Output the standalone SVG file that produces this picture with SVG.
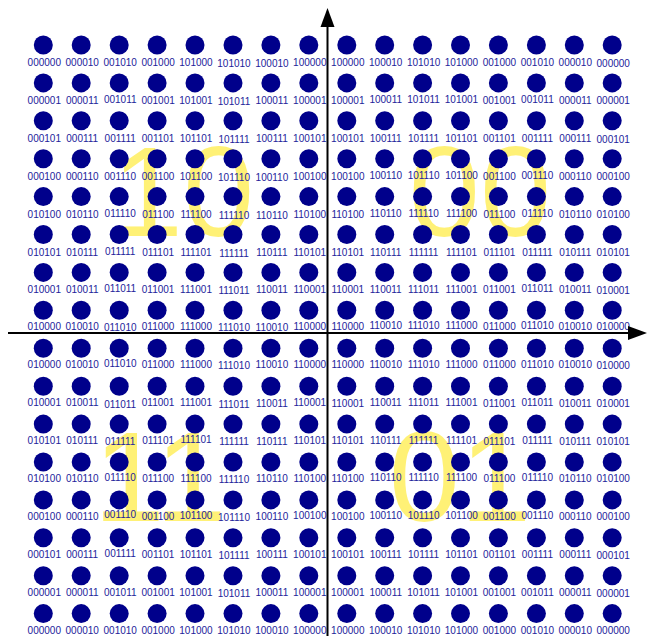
<svg xmlns="http://www.w3.org/2000/svg" width="647" height="636" viewBox="0 0 647 636">
<style>
.big{font-family:"Liberation Sans",Arial,sans-serif;font-size:128px;fill:#fff176;text-anchor:middle}
circle{fill:#00008b}
text.l{font-family:"Liberation Sans",Arial,sans-serif;font-size:10px;fill:#23239b;text-anchor:middle}
.ax{stroke:#000;stroke-width:2;fill:none}
</style>
<rect width="647" height="636" fill="#fff"/>
<g id="quadrants">
<text class="big" x="183" y="236">10</text>
<text class="big" x="480" y="236">00</text>
<text class="big" x="160" y="521">11</text>
<text class="big" x="460" y="521">01</text>
</g>
<g id="points">
<!-- row 0 -->
<g id="n0_0" transform="translate(43.3,45)"><circle r="9.5"/><text class="l" x="1" y="21">000000</text></g>
<g id="n0_1" transform="translate(81.2,45)"><circle r="9.5"/><text class="l" x="1" y="21">000010</text></g>
<g id="n0_2" transform="translate(119.2,45)"><circle r="9.5"/><text class="l" x="1" y="21">001010</text></g>
<g id="n0_3" transform="translate(157.1,45)"><circle r="9.5"/><text class="l" x="1" y="21">001000</text></g>
<g id="n0_4" transform="translate(195,45)"><circle r="9.5"/><text class="l" x="1" y="21">101000</text></g>
<g id="n0_5" transform="translate(233,45)"><circle r="9.5"/><text class="l" x="1" y="22">101010</text></g>
<g id="n0_6" transform="translate(270.9,45)"><circle r="9.5"/><text class="l" x="1" y="22">100010</text></g>
<g id="n0_7" transform="translate(308.8,45)"><circle r="9.5"/><text class="l" x="1" y="21">100000</text></g>
<g id="n0_8" transform="translate(346.8,45)"><circle r="9.5"/><text class="l" x="1" y="21">100000</text></g>
<g id="n0_9" transform="translate(384.7,45)"><circle r="9.5"/><text class="l" x="1" y="21">100010</text></g>
<g id="n0_10" transform="translate(422.6,45)"><circle r="9.5"/><text class="l" x="1" y="21">101010</text></g>
<g id="n0_11" transform="translate(460.5,45)"><circle r="9.5"/><text class="l" x="1" y="21">101000</text></g>
<g id="n0_12" transform="translate(498.4,45)"><circle r="9.5"/><text class="l" x="1" y="21">001000</text></g>
<g id="n0_13" transform="translate(536.4,45)"><circle r="9.5"/><text class="l" x="1" y="21">001010</text></g>
<g id="n0_14" transform="translate(574.3,45)"><circle r="9.5"/><text class="l" x="1" y="21">000010</text></g>
<g id="n0_15" transform="translate(612.2,45)"><circle r="9.5"/><text class="l" x="1" y="22">000000</text></g>
<!-- row 1 -->
<g id="n1_0" transform="translate(43.3,82.9)"><circle r="9.5"/><text class="l" x="1" y="21">000001</text></g>
<g id="n1_1" transform="translate(81.2,82.9)"><circle r="9.5"/><text class="l" x="1" y="21">000011</text></g>
<g id="n1_2" transform="translate(119.2,82.9)"><circle r="9.5"/><text class="l" x="1" y="20">001011</text></g>
<g id="n1_3" transform="translate(157.1,82.9)"><circle r="9.5"/><text class="l" x="1" y="21">001001</text></g>
<g id="n1_4" transform="translate(195,82.9)"><circle r="9.5"/><text class="l" x="1" y="21">101001</text></g>
<g id="n1_5" transform="translate(233,82.9)"><circle r="9.5"/><text class="l" x="1" y="22">101011</text></g>
<g id="n1_6" transform="translate(270.9,82.9)"><circle r="9.5"/><text class="l" x="1" y="21">100011</text></g>
<g id="n1_7" transform="translate(308.8,82.9)"><circle r="9.5"/><text class="l" x="1" y="21">100001</text></g>
<g id="n1_8" transform="translate(346.8,82.9)"><circle r="9.5"/><text class="l" x="1" y="21">100001</text></g>
<g id="n1_9" transform="translate(384.7,82.9)"><circle r="9.5"/><text class="l" x="1" y="20">100011</text></g>
<g id="n1_10" transform="translate(422.6,82.9)"><circle r="9.5"/><text class="l" x="1" y="20">101011</text></g>
<g id="n1_11" transform="translate(460.5,82.9)"><circle r="9.5"/><text class="l" x="1" y="20">101001</text></g>
<g id="n1_12" transform="translate(498.4,82.9)"><circle r="9.5"/><text class="l" x="1" y="21">001001</text></g>
<g id="n1_13" transform="translate(536.4,82.9)"><circle r="9.5"/><text class="l" x="1" y="20">001011</text></g>
<g id="n1_14" transform="translate(574.3,82.9)"><circle r="9.5"/><text class="l" x="1" y="21">000011</text></g>
<g id="n1_15" transform="translate(612.2,82.9)"><circle r="9.5"/><text class="l" x="1" y="21">000001</text></g>
<!-- row 2 -->
<g id="n2_0" transform="translate(43.3,120.8)"><circle r="9.5"/><text class="l" x="1" y="21">000101</text></g>
<g id="n2_1" transform="translate(81.2,120.8)"><circle r="9.5"/><text class="l" x="1" y="21">000111</text></g>
<g id="n2_2" transform="translate(119.2,120.8)"><circle r="9.5"/><text class="l" x="1" y="21">001111</text></g>
<g id="n2_3" transform="translate(157.1,120.8)"><circle r="9.5"/><text class="l" x="1" y="21">001101</text></g>
<g id="n2_4" transform="translate(195,120.8)"><circle r="9.5"/><text class="l" x="1" y="21">101101</text></g>
<g id="n2_5" transform="translate(233,120.8)"><circle r="9.5"/><text class="l" x="1" y="22">101111</text></g>
<g id="n2_6" transform="translate(270.9,120.8)"><circle r="9.5"/><text class="l" x="1" y="21">100111</text></g>
<g id="n2_7" transform="translate(308.8,120.8)"><circle r="9.5"/><text class="l" x="1" y="21">100101</text></g>
<g id="n2_8" transform="translate(346.8,120.8)"><circle r="9.5"/><text class="l" x="1" y="21">100101</text></g>
<g id="n2_9" transform="translate(384.7,120.8)"><circle r="9.5"/><text class="l" x="1" y="21">100111</text></g>
<g id="n2_10" transform="translate(422.6,120.8)"><circle r="9.5"/><text class="l" x="1" y="21">101111</text></g>
<g id="n2_11" transform="translate(460.5,120.8)"><circle r="9.5"/><text class="l" x="1" y="21">101101</text></g>
<g id="n2_12" transform="translate(498.4,120.8)"><circle r="9.5"/><text class="l" x="1" y="21">001101</text></g>
<g id="n2_13" transform="translate(536.4,120.8)"><circle r="9.5"/><text class="l" x="1" y="21">001111</text></g>
<g id="n2_14" transform="translate(574.3,120.8)"><circle r="9.5"/><text class="l" x="1" y="21">000111</text></g>
<g id="n2_15" transform="translate(612.2,120.8)"><circle r="9.5"/><text class="l" x="1" y="22">000101</text></g>
<!-- row 3 -->
<g id="n3_0" transform="translate(43.3,158.7)"><circle r="9.5"/><text class="l" x="1" y="21">000100</text></g>
<g id="n3_1" transform="translate(81.2,158.7)"><circle r="9.5"/><text class="l" x="1" y="21">000110</text></g>
<g id="n3_2" transform="translate(119.2,158.7)"><circle r="9.5"/><text class="l" x="1" y="21">001110</text></g>
<g id="n3_3" transform="translate(157.1,158.7)"><circle r="9.5"/><text class="l" x="1" y="21">001100</text></g>
<g id="n3_4" transform="translate(195,158.7)"><circle r="9.5"/><text class="l" x="1" y="21">101100</text></g>
<g id="n3_5" transform="translate(233,158.7)"><circle r="9.5"/><text class="l" x="1" y="22">101110</text></g>
<g id="n3_6" transform="translate(270.9,158.7)"><circle r="9.5"/><text class="l" x="1" y="22">100110</text></g>
<g id="n3_7" transform="translate(308.8,158.7)"><circle r="9.5"/><text class="l" x="1" y="21">100100</text></g>
<g id="n3_8" transform="translate(346.8,158.7)"><circle r="9.5"/><text class="l" x="1" y="21">100100</text></g>
<g id="n3_9" transform="translate(384.7,158.7)"><circle r="9.5"/><text class="l" x="1" y="20">100110</text></g>
<g id="n3_10" transform="translate(422.6,158.7)"><circle r="9.5"/><text class="l" x="1" y="20">101110</text></g>
<g id="n3_11" transform="translate(460.5,158.7)"><circle r="9.5"/><text class="l" x="1" y="20">101100</text></g>
<g id="n3_12" transform="translate(498.4,158.7)"><circle r="9.5"/><text class="l" x="1" y="21">001100</text></g>
<g id="n3_13" transform="translate(536.4,158.7)"><circle r="9.5"/><text class="l" x="1" y="20">001110</text></g>
<g id="n3_14" transform="translate(574.3,158.7)"><circle r="9.5"/><text class="l" x="1" y="21">000110</text></g>
<g id="n3_15" transform="translate(612.2,158.7)"><circle r="9.5"/><text class="l" x="1" y="21">000100</text></g>
<!-- row 4 -->
<g id="n4_0" transform="translate(43.3,196.6)"><circle r="9.5"/><text class="l" x="1" y="21">010100</text></g>
<g id="n4_1" transform="translate(81.2,196.6)"><circle r="9.5"/><text class="l" x="1" y="21">010110</text></g>
<g id="n4_2" transform="translate(119.2,196.6)"><circle r="9.5"/><text class="l" x="1" y="20">011110</text></g>
<g id="n4_3" transform="translate(157.1,196.6)"><circle r="9.5"/><text class="l" x="1" y="21">011100</text></g>
<g id="n4_4" transform="translate(195,196.6)"><circle r="9.5"/><text class="l" x="1" y="21">111100</text></g>
<g id="n4_5" transform="translate(233,196.6)"><circle r="9.5"/><text class="l" x="1" y="22">111110</text></g>
<g id="n4_6" transform="translate(270.9,196.6)"><circle r="9.5"/><text class="l" x="1" y="22">110110</text></g>
<g id="n4_7" transform="translate(308.8,196.6)"><circle r="9.5"/><text class="l" x="1" y="21">110100</text></g>
<g id="n4_8" transform="translate(346.8,196.6)"><circle r="9.5"/><text class="l" x="1" y="21">110100</text></g>
<g id="n4_9" transform="translate(384.7,196.6)"><circle r="9.5"/><text class="l" x="1" y="20">110110</text></g>
<g id="n4_10" transform="translate(422.6,196.6)"><circle r="9.5"/><text class="l" x="1" y="20">111110</text></g>
<g id="n4_11" transform="translate(460.5,196.6)"><circle r="9.5"/><text class="l" x="1" y="20">111100</text></g>
<g id="n4_12" transform="translate(498.4,196.6)"><circle r="9.5"/><text class="l" x="1" y="21">011100</text></g>
<g id="n4_13" transform="translate(536.4,196.6)"><circle r="9.5"/><text class="l" x="1" y="20">011110</text></g>
<g id="n4_14" transform="translate(574.3,196.6)"><circle r="9.5"/><text class="l" x="1" y="21">010110</text></g>
<g id="n4_15" transform="translate(612.2,196.6)"><circle r="9.5"/><text class="l" x="1" y="21">010100</text></g>
<!-- row 5 -->
<g id="n5_0" transform="translate(43.3,234.5)"><circle r="9.5"/><text class="l" x="1" y="21">010101</text></g>
<g id="n5_1" transform="translate(81.2,234.5)"><circle r="9.5"/><text class="l" x="1" y="21">010111</text></g>
<g id="n5_2" transform="translate(119.2,234.5)"><circle r="9.5"/><text class="l" x="1" y="20">011111</text></g>
<g id="n5_3" transform="translate(157.1,234.5)"><circle r="9.5"/><text class="l" x="1" y="21">011101</text></g>
<g id="n5_4" transform="translate(195,234.5)"><circle r="9.5"/><text class="l" x="1" y="21">111101</text></g>
<g id="n5_5" transform="translate(233,234.5)"><circle r="9.5"/><text class="l" x="1" y="22">111111</text></g>
<g id="n5_6" transform="translate(270.9,234.5)"><circle r="9.5"/><text class="l" x="1" y="21">110111</text></g>
<g id="n5_7" transform="translate(308.8,234.5)"><circle r="9.5"/><text class="l" x="1" y="21">110101</text></g>
<g id="n5_8" transform="translate(346.8,234.5)"><circle r="9.5"/><text class="l" x="1" y="21">110101</text></g>
<g id="n5_9" transform="translate(384.7,234.5)"><circle r="9.5"/><text class="l" x="1" y="21">110111</text></g>
<g id="n5_10" transform="translate(422.6,234.5)"><circle r="9.5"/><text class="l" x="1" y="21">111111</text></g>
<g id="n5_11" transform="translate(460.5,234.5)"><circle r="9.5"/><text class="l" x="1" y="21">111101</text></g>
<g id="n5_12" transform="translate(498.4,234.5)"><circle r="9.5"/><text class="l" x="1" y="21">011101</text></g>
<g id="n5_13" transform="translate(536.4,234.5)"><circle r="9.5"/><text class="l" x="1" y="21">011111</text></g>
<g id="n5_14" transform="translate(574.3,234.5)"><circle r="9.5"/><text class="l" x="1" y="21">010111</text></g>
<g id="n5_15" transform="translate(612.2,234.5)"><circle r="9.5"/><text class="l" x="1" y="21">010101</text></g>
<!-- row 6 -->
<g id="n6_0" transform="translate(43.3,272.4)"><circle r="9.5"/><text class="l" x="1" y="21">010001</text></g>
<g id="n6_1" transform="translate(81.2,272.4)"><circle r="9.5"/><text class="l" x="1" y="21">010011</text></g>
<g id="n6_2" transform="translate(119.2,272.4)"><circle r="9.5"/><text class="l" x="1" y="20">011011</text></g>
<g id="n6_3" transform="translate(157.1,272.4)"><circle r="9.5"/><text class="l" x="1" y="21">011001</text></g>
<g id="n6_4" transform="translate(195,272.4)"><circle r="9.5"/><text class="l" x="1" y="21">111001</text></g>
<g id="n6_5" transform="translate(233,272.4)"><circle r="9.5"/><text class="l" x="1" y="22">111011</text></g>
<g id="n6_6" transform="translate(270.9,272.4)"><circle r="9.5"/><text class="l" x="1" y="21">110011</text></g>
<g id="n6_7" transform="translate(308.8,272.4)"><circle r="9.5"/><text class="l" x="1" y="21">110001</text></g>
<g id="n6_8" transform="translate(346.8,272.4)"><circle r="9.5"/><text class="l" x="1" y="21">110001</text></g>
<g id="n6_9" transform="translate(384.7,272.4)"><circle r="9.5"/><text class="l" x="1" y="21">110011</text></g>
<g id="n6_10" transform="translate(422.6,272.4)"><circle r="9.5"/><text class="l" x="1" y="21">111011</text></g>
<g id="n6_11" transform="translate(460.5,272.4)"><circle r="9.5"/><text class="l" x="1" y="21">111001</text></g>
<g id="n6_12" transform="translate(498.4,272.4)"><circle r="9.5"/><text class="l" x="1" y="21">011001</text></g>
<g id="n6_13" transform="translate(536.4,272.4)"><circle r="9.5"/><text class="l" x="1" y="20">011011</text></g>
<g id="n6_14" transform="translate(574.3,272.4)"><circle r="9.5"/><text class="l" x="1" y="21">010011</text></g>
<g id="n6_15" transform="translate(612.2,272.4)"><circle r="9.5"/><text class="l" x="1" y="22">010001</text></g>
<!-- row 7 -->
<g id="n7_0" transform="translate(43.3,310.3)"><circle r="9.5"/><text class="l" x="1" y="20">010000</text></g>
<g id="n7_1" transform="translate(81.2,310.3)"><circle r="9.5"/><text class="l" x="1" y="20">010010</text></g>
<g id="n7_2" transform="translate(119.2,310.3)"><circle r="9.5"/><text class="l" x="1" y="21">011010</text></g>
<g id="n7_3" transform="translate(157.1,310.3)"><circle r="9.5"/><text class="l" x="1" y="20">011000</text></g>
<g id="n7_4" transform="translate(195,310.3)"><circle r="9.5"/><text class="l" x="1" y="20">111000</text></g>
<g id="n7_5" transform="translate(233,310.3)"><circle r="9.5"/><text class="l" x="1" y="21">111010</text></g>
<g id="n7_6" transform="translate(270.9,310.3)"><circle r="9.5"/><text class="l" x="1" y="21">110010</text></g>
<g id="n7_7" transform="translate(308.8,310.3)"><circle r="9.5"/><text class="l" x="1" y="20">110000</text></g>
<g id="n7_8" transform="translate(346.8,310.3)"><circle r="9.5"/><text class="l" x="1" y="20">110000</text></g>
<g id="n7_9" transform="translate(384.7,310.3)"><circle r="9.5"/><text class="l" x="1" y="19">110010</text></g>
<g id="n7_10" transform="translate(422.6,310.3)"><circle r="9.5"/><text class="l" x="1" y="19">111010</text></g>
<g id="n7_11" transform="translate(460.5,310.3)"><circle r="9.5"/><text class="l" x="1" y="19">111000</text></g>
<g id="n7_12" transform="translate(498.4,310.3)"><circle r="9.5"/><text class="l" x="1" y="20">011000</text></g>
<g id="n7_13" transform="translate(536.4,310.3)"><circle r="9.5"/><text class="l" x="1" y="19">011010</text></g>
<g id="n7_14" transform="translate(574.3,310.3)"><circle r="9.5"/><text class="l" x="1" y="20">010010</text></g>
<g id="n7_15" transform="translate(612.2,310.3)"><circle r="9.5"/><text class="l" x="1" y="20">010000</text></g>
<!-- row 8 -->
<g id="n8_0" transform="translate(43.3,348.3)"><circle r="9.5"/><text class="l" x="1" y="20">010000</text></g>
<g id="n8_1" transform="translate(81.2,348.3)"><circle r="9.5"/><text class="l" x="1" y="20">010010</text></g>
<g id="n8_2" transform="translate(119.2,348.3)"><circle r="9.5"/><text class="l" x="1" y="19">011010</text></g>
<g id="n8_3" transform="translate(157.1,348.3)"><circle r="9.5"/><text class="l" x="1" y="20">011000</text></g>
<g id="n8_4" transform="translate(195,348.3)"><circle r="9.5"/><text class="l" x="1" y="20">111000</text></g>
<g id="n8_5" transform="translate(233,348.3)"><circle r="9.5"/><text class="l" x="1" y="21">111010</text></g>
<g id="n8_6" transform="translate(270.9,348.3)"><circle r="9.5"/><text class="l" x="1" y="20">110010</text></g>
<g id="n8_7" transform="translate(308.8,348.3)"><circle r="9.5"/><text class="l" x="1" y="20">110000</text></g>
<g id="n8_8" transform="translate(346.8,348.3)"><circle r="9.5"/><text class="l" x="1" y="20">110000</text></g>
<g id="n8_9" transform="translate(384.7,348.3)"><circle r="9.5"/><text class="l" x="1" y="20">110010</text></g>
<g id="n8_10" transform="translate(422.6,348.3)"><circle r="9.5"/><text class="l" x="1" y="20">111010</text></g>
<g id="n8_11" transform="translate(460.5,348.3)"><circle r="9.5"/><text class="l" x="1" y="20">111000</text></g>
<g id="n8_12" transform="translate(498.4,348.3)"><circle r="9.5"/><text class="l" x="1" y="20">011000</text></g>
<g id="n8_13" transform="translate(536.4,348.3)"><circle r="9.5"/><text class="l" x="1" y="20">011010</text></g>
<g id="n8_14" transform="translate(574.3,348.3)"><circle r="9.5"/><text class="l" x="1" y="20">010010</text></g>
<g id="n8_15" transform="translate(612.2,348.3)"><circle r="9.5"/><text class="l" x="1" y="21">010000</text></g>
<!-- row 9 -->
<g id="n9_0" transform="translate(43.3,386.2)"><circle r="9.5"/><text class="l" x="1" y="20">010001</text></g>
<g id="n9_1" transform="translate(81.2,386.2)"><circle r="9.5"/><text class="l" x="1" y="20">010011</text></g>
<g id="n9_2" transform="translate(119.2,386.2)"><circle r="9.5"/><text class="l" x="1" y="22">011011</text></g>
<g id="n9_3" transform="translate(157.1,386.2)"><circle r="9.5"/><text class="l" x="1" y="20">011001</text></g>
<g id="n9_4" transform="translate(195,386.2)"><circle r="9.5"/><text class="l" x="1" y="20">111001</text></g>
<g id="n9_5" transform="translate(233,386.2)"><circle r="9.5"/><text class="l" x="1" y="22">111011</text></g>
<g id="n9_6" transform="translate(270.9,386.2)"><circle r="9.5"/><text class="l" x="1" y="21">110011</text></g>
<g id="n9_7" transform="translate(308.8,386.2)"><circle r="9.5"/><text class="l" x="1" y="20">110001</text></g>
<g id="n9_8" transform="translate(346.8,386.2)"><circle r="9.5"/><text class="l" x="1" y="21">110001</text></g>
<g id="n9_9" transform="translate(384.7,386.2)"><circle r="9.5"/><text class="l" x="1" y="20">110011</text></g>
<g id="n9_10" transform="translate(422.6,386.2)"><circle r="9.5"/><text class="l" x="1" y="20">111011</text></g>
<g id="n9_11" transform="translate(460.5,386.2)"><circle r="9.5"/><text class="l" x="1" y="20">111001</text></g>
<g id="n9_12" transform="translate(498.4,386.2)"><circle r="9.5"/><text class="l" x="1" y="21">011001</text></g>
<g id="n9_13" transform="translate(536.4,386.2)"><circle r="9.5"/><text class="l" x="1" y="20">011011</text></g>
<g id="n9_14" transform="translate(574.3,386.2)"><circle r="9.5"/><text class="l" x="1" y="21">010011</text></g>
<g id="n9_15" transform="translate(612.2,386.2)"><circle r="9.5"/><text class="l" x="1" y="21">010001</text></g>
<!-- row 10 -->
<g id="n10_0" transform="translate(43.3,424.1)"><circle r="9.5"/><text class="l" x="1" y="20">010101</text></g>
<g id="n10_1" transform="translate(81.2,424.1)"><circle r="9.5"/><text class="l" x="1" y="20">010111</text></g>
<g id="n10_2" transform="translate(119.2,424.1)"><circle r="9.5"/><text class="l" x="1" y="21">011111</text></g>
<g id="n10_3" transform="translate(157.1,424.1)"><circle r="9.5"/><text class="l" x="1" y="20">011101</text></g>
<g id="n10_4" transform="translate(195,424.1)"><circle r="9.5"/><text class="l" x="1" y="19">111101</text></g>
<g id="n10_5" transform="translate(233,424.1)"><circle r="9.5"/><text class="l" x="1" y="21">111111</text></g>
<g id="n10_6" transform="translate(270.9,424.1)"><circle r="9.5"/><text class="l" x="1" y="21">110111</text></g>
<g id="n10_7" transform="translate(308.8,424.1)"><circle r="9.5"/><text class="l" x="1" y="20">110101</text></g>
<g id="n10_8" transform="translate(346.8,424.1)"><circle r="9.5"/><text class="l" x="1" y="20">110101</text></g>
<g id="n10_9" transform="translate(384.7,424.1)"><circle r="9.5"/><text class="l" x="1" y="20">110111</text></g>
<g id="n10_10" transform="translate(422.6,424.1)"><circle r="9.5"/><text class="l" x="1" y="20">111111</text></g>
<g id="n10_11" transform="translate(460.5,424.1)"><circle r="9.5"/><text class="l" x="1" y="20">111101</text></g>
<g id="n10_12" transform="translate(498.4,424.1)"><circle r="9.5"/><text class="l" x="1" y="21">011101</text></g>
<g id="n10_13" transform="translate(536.4,424.1)"><circle r="9.5"/><text class="l" x="1" y="20">011111</text></g>
<g id="n10_14" transform="translate(574.3,424.1)"><circle r="9.5"/><text class="l" x="1" y="21">010111</text></g>
<g id="n10_15" transform="translate(612.2,424.1)"><circle r="9.5"/><text class="l" x="1" y="21">010101</text></g>
<!-- row 11 -->
<g id="n11_0" transform="translate(43.3,462)"><circle r="9.5"/><text class="l" x="1" y="20">010100</text></g>
<g id="n11_1" transform="translate(81.2,462)"><circle r="9.5"/><text class="l" x="1" y="20">010110</text></g>
<g id="n11_2" transform="translate(119.2,462)"><circle r="9.5"/><text class="l" x="1" y="19">011110</text></g>
<g id="n11_3" transform="translate(157.1,462)"><circle r="9.5"/><text class="l" x="1" y="20">011100</text></g>
<g id="n11_4" transform="translate(195,462)"><circle r="9.5"/><text class="l" x="1" y="20">111100</text></g>
<g id="n11_5" transform="translate(233,462)"><circle r="9.5"/><text class="l" x="1" y="21">111110</text></g>
<g id="n11_6" transform="translate(270.9,462)"><circle r="9.5"/><text class="l" x="1" y="20">110110</text></g>
<g id="n11_7" transform="translate(308.8,462)"><circle r="9.5"/><text class="l" x="1" y="20">110100</text></g>
<g id="n11_8" transform="translate(346.8,462)"><circle r="9.5"/><text class="l" x="1" y="20">110100</text></g>
<g id="n11_9" transform="translate(384.7,462)"><circle r="9.5"/><text class="l" x="1" y="19">110110</text></g>
<g id="n11_10" transform="translate(422.6,462)"><circle r="9.5"/><text class="l" x="1" y="19">111110</text></g>
<g id="n11_11" transform="translate(460.5,462)"><circle r="9.5"/><text class="l" x="1" y="19">111100</text></g>
<g id="n11_12" transform="translate(498.4,462)"><circle r="9.5"/><text class="l" x="1" y="20">011100</text></g>
<g id="n11_13" transform="translate(536.4,462)"><circle r="9.5"/><text class="l" x="1" y="19">011110</text></g>
<g id="n11_14" transform="translate(574.3,462)"><circle r="9.5"/><text class="l" x="1" y="20">010110</text></g>
<g id="n11_15" transform="translate(612.2,462)"><circle r="9.5"/><text class="l" x="1" y="20">010100</text></g>
<!-- row 12 -->
<g id="n12_0" transform="translate(43.3,499.9)"><circle r="9.5"/><text class="l" x="1" y="20">000100</text></g>
<g id="n12_1" transform="translate(81.2,499.9)"><circle r="9.5"/><text class="l" x="1" y="20">000110</text></g>
<g id="n12_2" transform="translate(119.2,499.9)"><circle r="9.5"/><text class="l" x="1" y="18">001110</text></g>
<g id="n12_3" transform="translate(157.1,499.9)"><circle r="9.5"/><text class="l" x="1" y="20">001100</text></g>
<g id="n12_4" transform="translate(195,499.9)"><circle r="9.5"/><text class="l" x="1" y="19">101100</text></g>
<g id="n12_5" transform="translate(233,499.9)"><circle r="9.5"/><text class="l" x="1" y="21">101110</text></g>
<g id="n12_6" transform="translate(270.9,499.9)"><circle r="9.5"/><text class="l" x="1" y="20">100110</text></g>
<g id="n12_7" transform="translate(308.8,499.9)"><circle r="9.5"/><text class="l" x="1" y="19">100100</text></g>
<g id="n12_8" transform="translate(346.8,499.9)"><circle r="9.5"/><text class="l" x="1" y="20">100100</text></g>
<g id="n12_9" transform="translate(384.7,499.9)"><circle r="9.5"/><text class="l" x="1" y="19">100110</text></g>
<g id="n12_10" transform="translate(422.6,499.9)"><circle r="9.5"/><text class="l" x="1" y="19">101110</text></g>
<g id="n12_11" transform="translate(460.5,499.9)"><circle r="9.5"/><text class="l" x="1" y="19">101100</text></g>
<g id="n12_12" transform="translate(498.4,499.9)"><circle r="9.5"/><text class="l" x="1" y="20">001100</text></g>
<g id="n12_13" transform="translate(536.4,499.9)"><circle r="9.5"/><text class="l" x="1" y="19">001110</text></g>
<g id="n12_14" transform="translate(574.3,499.9)"><circle r="9.5"/><text class="l" x="1" y="20">000110</text></g>
<g id="n12_15" transform="translate(612.2,499.9)"><circle r="9.5"/><text class="l" x="1" y="20">000100</text></g>
<!-- row 13 -->
<g id="n13_0" transform="translate(43.3,537.8)"><circle r="9.5"/><text class="l" x="1" y="20">000101</text></g>
<g id="n13_1" transform="translate(81.2,537.8)"><circle r="9.5"/><text class="l" x="1" y="20">000111</text></g>
<g id="n13_2" transform="translate(119.2,537.8)"><circle r="9.5"/><text class="l" x="1" y="19">001111</text></g>
<g id="n13_3" transform="translate(157.1,537.8)"><circle r="9.5"/><text class="l" x="1" y="20">001101</text></g>
<g id="n13_4" transform="translate(195,537.8)"><circle r="9.5"/><text class="l" x="1" y="20">101101</text></g>
<g id="n13_5" transform="translate(233,537.8)"><circle r="9.5"/><text class="l" x="1" y="21">101111</text></g>
<g id="n13_6" transform="translate(270.9,537.8)"><circle r="9.5"/><text class="l" x="1" y="20">100111</text></g>
<g id="n13_7" transform="translate(308.8,537.8)"><circle r="9.5"/><text class="l" x="1" y="20">100101</text></g>
<g id="n13_8" transform="translate(346.8,537.8)"><circle r="9.5"/><text class="l" x="1" y="20">100101</text></g>
<g id="n13_9" transform="translate(384.7,537.8)"><circle r="9.5"/><text class="l" x="1" y="20">100111</text></g>
<g id="n13_10" transform="translate(422.6,537.8)"><circle r="9.5"/><text class="l" x="1" y="20">101111</text></g>
<g id="n13_11" transform="translate(460.5,537.8)"><circle r="9.5"/><text class="l" x="1" y="20">101101</text></g>
<g id="n13_12" transform="translate(498.4,537.8)"><circle r="9.5"/><text class="l" x="1" y="20">001101</text></g>
<g id="n13_13" transform="translate(536.4,537.8)"><circle r="9.5"/><text class="l" x="1" y="20">001111</text></g>
<g id="n13_14" transform="translate(574.3,537.8)"><circle r="9.5"/><text class="l" x="1" y="20">000111</text></g>
<g id="n13_15" transform="translate(612.2,537.8)"><circle r="9.5"/><text class="l" x="1" y="21">000101</text></g>
<!-- row 14 -->
<g id="n14_0" transform="translate(43.3,575.7)"><circle r="9.5"/><text class="l" x="1" y="20">000001</text></g>
<g id="n14_1" transform="translate(81.2,575.7)"><circle r="9.5"/><text class="l" x="1" y="20">000011</text></g>
<g id="n14_2" transform="translate(119.2,575.7)"><circle r="9.5"/><text class="l" x="1" y="20">001011</text></g>
<g id="n14_3" transform="translate(157.1,575.7)"><circle r="9.5"/><text class="l" x="1" y="20">001001</text></g>
<g id="n14_4" transform="translate(195,575.7)"><circle r="9.5"/><text class="l" x="1" y="20">101001</text></g>
<g id="n14_5" transform="translate(233,575.7)"><circle r="9.5"/><text class="l" x="1" y="21">101011</text></g>
<g id="n14_6" transform="translate(270.9,575.7)"><circle r="9.5"/><text class="l" x="1" y="20">100011</text></g>
<g id="n14_7" transform="translate(308.8,575.7)"><circle r="9.5"/><text class="l" x="1" y="20">100001</text></g>
<g id="n14_8" transform="translate(346.8,575.7)"><circle r="9.5"/><text class="l" x="1" y="20">100001</text></g>
<g id="n14_9" transform="translate(384.7,575.7)"><circle r="9.5"/><text class="l" x="1" y="20">100011</text></g>
<g id="n14_10" transform="translate(422.6,575.7)"><circle r="9.5"/><text class="l" x="1" y="20">101011</text></g>
<g id="n14_11" transform="translate(460.5,575.7)"><circle r="9.5"/><text class="l" x="1" y="20">101001</text></g>
<g id="n14_12" transform="translate(498.4,575.7)"><circle r="9.5"/><text class="l" x="1" y="20">001001</text></g>
<g id="n14_13" transform="translate(536.4,575.7)"><circle r="9.5"/><text class="l" x="1" y="20">001011</text></g>
<g id="n14_14" transform="translate(574.3,575.7)"><circle r="9.5"/><text class="l" x="1" y="20">000011</text></g>
<g id="n14_15" transform="translate(612.2,575.7)"><circle r="9.5"/><text class="l" x="1" y="21">000001</text></g>
<!-- row 15 -->
<g id="n15_0" transform="translate(43.3,613.6)"><circle r="9.5"/><text class="l" x="1" y="20.5">000000</text></g>
<g id="n15_1" transform="translate(81.2,613.6)"><circle r="9.5"/><text class="l" x="1" y="20.5">000010</text></g>
<g id="n15_2" transform="translate(119.2,613.6)"><circle r="9.5"/><text class="l" x="1" y="20.5">001010</text></g>
<g id="n15_3" transform="translate(157.1,613.6)"><circle r="9.5"/><text class="l" x="1" y="20.5">001000</text></g>
<g id="n15_4" transform="translate(195,613.6)"><circle r="9.5"/><text class="l" x="1" y="20.5">101000</text></g>
<g id="n15_5" transform="translate(233,613.6)"><circle r="9.5"/><text class="l" x="1" y="20.5">101010</text></g>
<g id="n15_6" transform="translate(270.9,613.6)"><circle r="9.5"/><text class="l" x="1" y="20.5">100010</text></g>
<g id="n15_7" transform="translate(308.8,613.6)"><circle r="9.5"/><text class="l" x="1" y="20.5">100000</text></g>
<g id="n15_8" transform="translate(346.8,613.6)"><circle r="9.5"/><text class="l" x="1" y="20.5">100000</text></g>
<g id="n15_9" transform="translate(384.7,613.6)"><circle r="9.5"/><text class="l" x="1" y="20.5">100010</text></g>
<g id="n15_10" transform="translate(422.6,613.6)"><circle r="9.5"/><text class="l" x="1" y="20.5">101010</text></g>
<g id="n15_11" transform="translate(460.5,613.6)"><circle r="9.5"/><text class="l" x="1" y="20">101000</text></g>
<g id="n15_12" transform="translate(498.4,613.6)"><circle r="9.5"/><text class="l" x="1" y="20.5">001000</text></g>
<g id="n15_13" transform="translate(536.4,613.6)"><circle r="9.5"/><text class="l" x="1" y="20">001010</text></g>
<g id="n15_14" transform="translate(574.3,613.6)"><circle r="9.5"/><text class="l" x="1" y="20.5">000010</text></g>
<g id="n15_15" transform="translate(612.2,613.6)"><circle r="9.5"/><text class="l" x="1" y="20.5">000000</text></g>
</g>
<g id="connectors">
<line class="ax" x1="327.5" y1="636" x2="327.5" y2="24"/>
<polygon points="327.5,8 320.5,27 334.5,27" fill="#000"/>
<line class="ax" x1="8" y1="333" x2="631" y2="333"/>
<polygon points="647,333 628,326 628,340" fill="#000"/>
</g>
</svg>
